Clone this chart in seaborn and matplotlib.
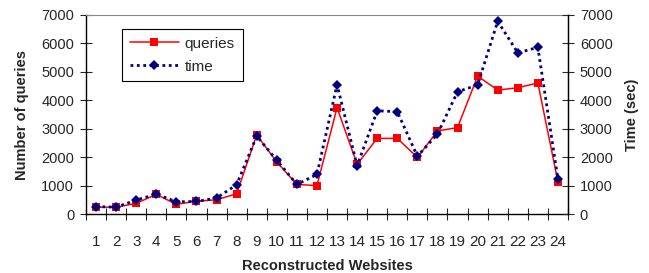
import matplotlib
matplotlib.use("Agg")
import matplotlib.pyplot as plt
import numpy as np
import pandas as pd
import seaborn as sns

websites = list(range(1, 25))
queries = [240, 240, 375, 690, 340, 450, 500, 710, 2780, 1830, 1040, 1000, 3740, 1750,
           2660, 2660, 1990, 2920, 3040, 4850, 4360, 4440, 4610, 1130]
time_sec = [260, 240, 490, 700, 430, 440, 560, 1030, 2740, 1890, 1040, 1390, 4550, 1700,
            3630, 3600, 2030, 2810, 4300, 4540, 6780, 5670, 5860, 1230]

df = pd.DataFrame({"site": websites, "queries": queries, "time": time_sec})

sns.set_style("ticks")
plt.rcParams['font.family'] = ['Liberation Sans', 'DejaVu Sans']

fig = plt.figure(figsize=(6.49, 2.73), dpi=100)
ax = fig.add_axes([86 / 649, 1 - 214 / 273, 482 / 649, 199 / 273])

sns.lineplot(data=df, x="site", y="queries", ax=ax, color="#ff0000", linewidth=1.1,
             marker="s", markersize=6, markeredgewidth=0, label="queries")
sns.lineplot(data=df, x="site", y="time", ax=ax, color="#000080", linewidth=2.0,
             linestyle=(0, (1, 1.3)), marker="D", markersize=5.5, markeredgewidth=0,
             label="time")

ax.set_xlim(0.5, 24.5)
ax.set_ylim(0, 7000)
ax.set_yticks(np.arange(0, 7001, 1000))
ax.set_xticks(np.arange(0.5, 25, 1))
ax.set_xticklabels([])
ax.set_xticks(websites, minor=True)
ax.set_xticklabels([str(w) for w in websites], minor=True)
ax.tick_params(axis="x", which="minor", length=0, pad=15, labelsize=11)
ax.tick_params(axis="x", which="major", length=9, direction="inout", width=0.8)
ax.tick_params(axis="y", length=9, direction="inout", width=0.8, labelsize=10.5, pad=4)

ax.set_xlabel("Reconstructed Websites", fontsize=10.5, fontweight="bold", labelpad=7)
ax.set_ylabel("Number of queries", fontsize=10.5, fontweight="bold", labelpad=9)

ax.spines["top"].set_color("#888888")
for s in ["left", "bottom", "right"]:
    ax.spines[s].set_color("black")
    ax.spines[s].set_linewidth(1.0)

ax2 = ax.twinx()
ax2.set_ylim(0, 7000)
ax2.set_yticks(np.arange(0, 7001, 1000))
ax2.tick_params(axis="y", length=9, direction="inout", width=0.8, labelsize=10.5, pad=4)
ax2.set_ylabel("Time (sec)", fontsize=10.5, fontweight="bold", labelpad=9)
for s in ["top", "left", "bottom"]:
    ax2.spines[s].set_visible(False)
ax2.spines["right"].set_color("black")

leg = ax.legend(loc="upper left", bbox_to_anchor=(0.075, 0.93), borderaxespad=0,
                fancybox=False, edgecolor="black", framealpha=1, fontsize=11,
                handlelength=3.2, handletextpad=0.4, borderpad=0.5, labelspacing=0.6)
leg.get_frame().set_linewidth(0.8)

fig.savefig("out.png", dpi=100)
